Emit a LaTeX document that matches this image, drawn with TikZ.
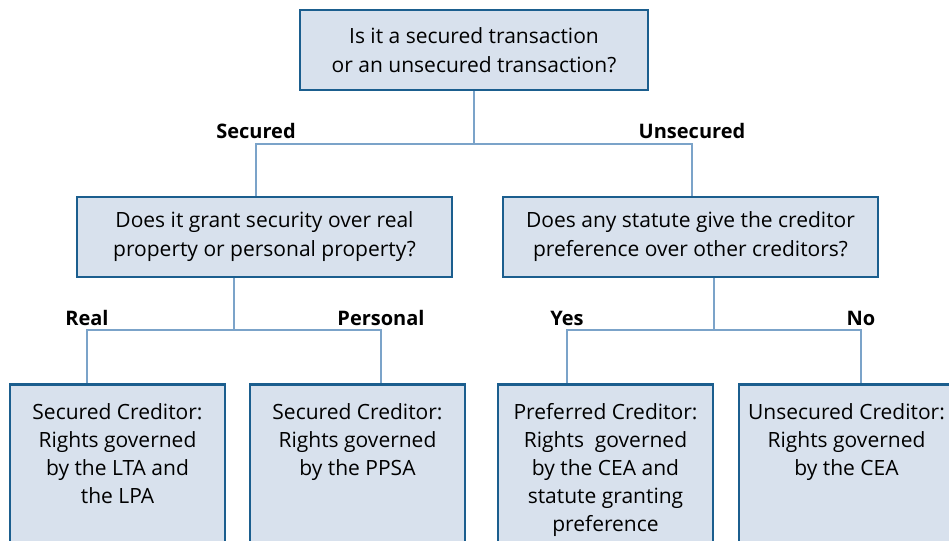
\documentclass[tikz,border=0pt]{standalone}
\usepackage{fontspec}
\setmainfont{Open Sans}
\usetikzlibrary{positioning}
\definecolor{boxline}{RGB}{27,94,142}
\definecolor{boxfill}{RGB}{216,225,237}
\definecolor{linkline}{RGB}{123,163,201}
\newcommand{\leafbox}[1]{\parbox[t][170pt][t]{214pt}{\centering\vspace*{19pt}#1}}
\tikzset{%
    question/.style={draw=boxline,fill=boxfill,line width=2.6pt,inner sep=0pt,minimum height=80pt,align=center,font=\fontsize{21}{29}\selectfont},
    answer/.style={draw=boxline,fill=boxfill,line width=2.6pt,anchor=north,inner sep=0pt,minimum width=215pt,font=\fontsize{21}{28}\selectfont},
    branch/.style={draw=linkline,line width=2.3pt},
    choice/.style={anchor=base,inner sep=0pt,yshift=5pt,font=\bfseries\fontsize{20}{22}\selectfont},
}

\begin{document}
\begin{tikzpicture}[x=1pt,y=-1pt]
    \useasboundingbox (0,0) rectangle (949,540);
    \clip (0,0) rectangle (949,540);

    %questions
    \node[question,minimum width=348pt] (q0) at (474,50) {Is it a secured transaction\\or an unsecured transaction?};
    \node[question,minimum width=375pt] (q1) at (264.5,237) {Does it grant security over real\\property or personal property?};
    \node[question,minimum width=375pt] (q2) at (690.5,237) {Does any statute give the creditor\\preference over other creditors?};

    %answers
    \node[answer] (a1) at (117.5,383) {\leafbox{Secured Creditor:\\Rights governed\\by the LTA and\\the LPA}};
    \node[answer] (a2) at (357.5,383) {\leafbox{Secured Creditor:\\Rights governed\\by the PPSA}};
    \node[answer] (a3) at (605.5,383) {\leafbox{Preferred Creditor:\\Rights~~governed\\by the CEA and\\statute granting\\preference}};
    \node[answer] (a4) at (846.5,383) {\leafbox{Unsecured Creditor:\\Rights governed\\by the CEA}};

    %branches
    \coordinate (j0) at (474,144);
    \coordinate (j1) at (234,330);
    \coordinate (j2) at (714,330);
    \draw[branch] (q0.south) -- (j0);
    \draw[branch] (j0) -| ([xshift=-8.5pt]q1.north);
    \draw[branch] (j0) -| ([xshift=1.5pt]q2.north);
    \draw[branch] (q1.south -| j1) -- (j1);
    \draw[branch] (j1) -| ([xshift=-30.5pt]a1.north);
    \draw[branch] (j1) -| ([xshift=23.5pt]a2.north);
    \draw[branch] (q2.south -| j2) -- (j2);
    \draw[branch] (j2) -| ([xshift=-38.5pt]a3.north);
    \draw[branch] (j2) -| ([xshift=14.5pt]a4.north);

    %labels
    \node[choice] (c1) at ([xshift=-8.5pt]q1.north |- j0) {Secured};
    \node[choice] (c2) at ([xshift=1.5pt]q2.north |- j0) {Unsecured};
    \node[choice] (c3) at ([xshift=-30.5pt]a1.north |- j1) {Real};
    \node[choice] (c4) at ([xshift=23.5pt]a2.north |- j1) {Personal};
    \node[choice] (c5) at ([xshift=-38.5pt]a3.north |- j1) {Yes};
    \node[choice] (c6) at ([xshift=14.5pt]a4.north |- j1) {No};
\end{tikzpicture}
\end{document}
